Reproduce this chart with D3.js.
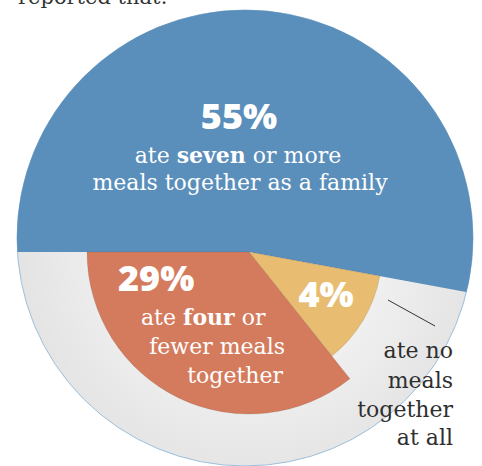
<!DOCTYPE html>
<html>
<head>
<meta charset="utf-8">
<script src="https://cdn.jsdelivr.net/npm/d3@7"></script>
<style>
  body { margin: 0; background: #fff; }
  svg { display: block; }
  .serif { font-family: "DejaVu Serif", serif; }
  .big { font-family: "Open Sans", sans-serif; font-weight: 800; fill: #fff; }
  .bold { font-weight: bold; }
</style>
</head>
<body>
<div id="chart"></div>
<script>
// slices, clockwise from 9 o'clock
var categories = ["seven", "none", "four"];
var percents = [55, 4, 29];
// angular share of each wedge as drawn in the picture
var sweeps = [52.9, 11.4, 35.7];

(function(){
  var width = 482, height = 466;
  var plate = {cx: 245, cy: 238, r: 228};
  var apex = {x: 249, y: 252};

  var color = d3.scaleOrdinal()
      .domain(categories)
      .range(["#5a8ebb", "#e8bd71", "#d57b5d"]);
  var outerR = {seven: 270, none: 133, four: 162};

  var svg = d3.select("#chart").append("svg")
      .attr("width", width)
      .attr("height", height);

  var defs = svg.append("defs");
  var grad = defs.append("radialGradient")
      .attr("id", "plateGrad")
      .attr("gradientUnits", "userSpaceOnUse")
      .attr("cx", apex.x).attr("cy", apex.y).attr("r", plate.r);
  grad.append("stop").attr("offset", "60%").attr("stop-color", "#efefef");
  grad.append("stop").attr("offset", "100%").attr("stop-color", "#e4e4e4");

  defs.append("clipPath").attr("id", "plateClip")
    .append("circle")
      .attr("cx", plate.cx - apex.x)
      .attr("cy", plate.cy - apex.y)
      .attr("r", plate.r);

  // top sentence, cut off by the frame as in the original
  svg.append("text")
      .attr("class", "serif")
      .attr("x", 18).attr("y", 4)
      .style("font-size", "21px")
      .style("fill", "#333")
      .text("reported that:");

  svg.append("circle")
      .attr("cx", plate.cx).attr("cy", plate.cy).attr("r", plate.r)
      .attr("fill", "url(#plateGrad)")
      .attr("stroke", "#9cc0dc")
      .attr("stroke-width", 1);

  var pie = d3.pie()
      .sort(null)
      .startAngle(-Math.PI / 2)
      .endAngle(3 * Math.PI / 2)
      .value(function(d, i) { return sweeps[i]; });

  var arc = d3.arc()
      .innerRadius(0)
      .outerRadius(function(d) { return outerR[d.data]; });

  var g = svg.append("g")
      .attr("transform", "translate(" + apex.x + "," + apex.y + ")")
      .attr("clip-path", "url(#plateClip)");

  g.selectAll("path")
      .data(pie(categories))
      .enter().append("path")
      .attr("d", arc)
      .attr("fill", function(d) { return color(d.data); })
      .attr("stroke", function(d) { return d.data === "seven" ? "none" : "rgba(90,60,40,0.25)"; })
      .attr("stroke-width", 0.6);

  // leader line for "ate no meals"
  svg.append("line")
      .attr("x1", 388).attr("y1", 300)
      .attr("x2", 435).attr("y2", 326)
      .attr("stroke", "#333")
      .attr("stroke-width", 1);

  function bigLabel(x, y, anchor, i) {
    svg.append("text")
        .attr("class", "big")
        .attr("x", x).attr("y", y)
        .attr("text-anchor", anchor)
        .style("font-size", "36px")
        .text(percents[i] + "%");
  }

  function lines(rows, fill) {
    rows.forEach(function(r) {
      var t = svg.append("text")
          .attr("class", "serif")
          .attr("x", r.x).attr("y", r.y)
          .attr("text-anchor", r.anchor)
          .style("font-size", "22px")
          .style("fill", fill);
      r.parts.forEach(function(p) {
        t.append("tspan")
            .attr("class", p.b ? "bold" : null)
            .text(p.t);
      });
    });
  }

  bigLabel(239, 129, "middle", 0);
  lines([
    {x: 238, y: 163, anchor: "middle", parts: [{t: "ate "}, {t: "seven", b: 1}, {t: " or more"}]},
    {x: 240, y: 190, anchor: "middle", parts: [{t: "meals together as a family"}]}
  ], "#fff");

  bigLabel(118, 291, "start", 2);
  lines([
    {x: 141, y: 325, anchor: "start", parts: [{t: "ate "}, {t: "four", b: 1}, {t: " or"}]},
    {x: 285, y: 354, anchor: "end", parts: [{t: "fewer meals"}]},
    {x: 283, y: 383, anchor: "end", parts: [{t: "together"}]}
  ], "#fff");

  bigLabel(326, 307, "middle", 1);
  lines([
    {x: 453, y: 358, anchor: "end", parts: [{t: "ate no"}]},
    {x: 453, y: 388, anchor: "end", parts: [{t: "meals"}]},
    {x: 453, y: 417, anchor: "end", parts: [{t: "together"}]},
    {x: 453, y: 445, anchor: "end", parts: [{t: "at all"}]}
  ], "#2f2f2f");
}());
</script>
</body>
</html>
